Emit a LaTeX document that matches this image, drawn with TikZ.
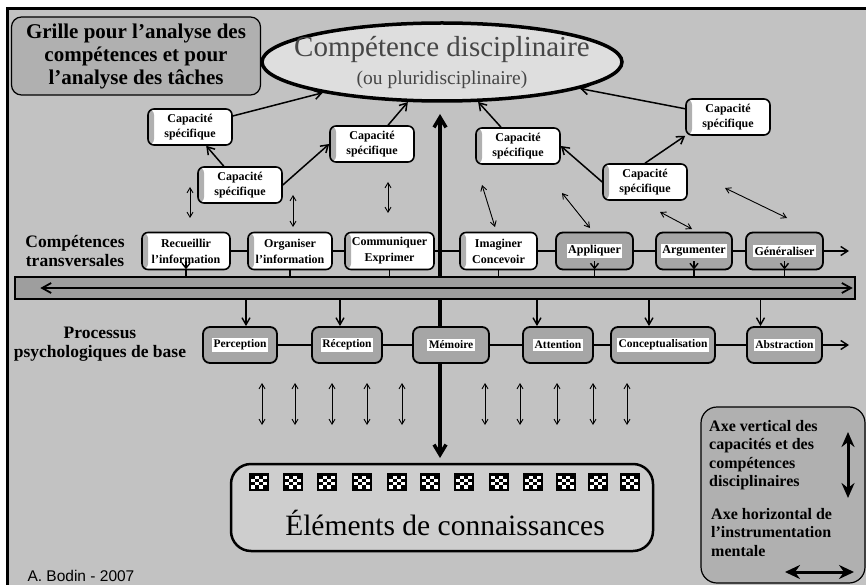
\documentclass[tikz,border=0pt]{standalone}
\usepackage{fontspec}
\setmainfont{Liberation Serif}
\newfontfamily\credfont{Liberation Sans}
\usetikzlibrary{arrows.meta,positioning,shapes.geometric}
\definecolor{bgGray}{RGB}{194,194,194}
\definecolor{boxGray}{RGB}{176,176,176}
\definecolor{procGray}{RGB}{166,166,166}
\definecolor{barGray}{RGB}{158,158,158}
\definecolor{ellFill}{RGB}{222,222,222}
\definecolor{ellText}{RGB}{70,70,70}
\definecolor{baseFill}{RGB}{206,206,206}
\newcommand\wlab[1]{{\setlength\fboxsep{1.5pt}\colorbox{white}{#1}}}

\begin{document}
\begin{tikzpicture}[x=1pt,y=-1pt,
    capbox/.style={rectangle, rounded corners=6pt, draw, line width=1.6pt, fill=white,
               minimum width=84pt, minimum height=36pt, align=center, inner sep=2pt,
               font=\bfseries\fontsize{12}{15}\selectfont,
               path picture={\fill[boxGray] (path picture bounding box.south west)
                 rectangle ([xshift=6pt]path picture bounding box.north west);}},
    transbox/.style={capbox, minimum height=37pt, font=\bfseries\fontsize{12}{16}\selectfont},
    transgray/.style={rectangle, rounded corners=7pt, draw, line width=1.8pt, fill=procGray,
               minimum height=37pt, inner sep=2pt, font=\bfseries\fontsize{12}{14}\selectfont},
    procbox/.style={transgray, minimum height=36pt, font=\bfseries\fontsize{11.5}{13}\selectfont},
    sidelab/.style={align=center, font=\bfseries\fontsize{17.5}{18.5}\selectfont},
    caparr/.style={-{Straight Barb[length=7pt,width=9pt]}, line width=1.5pt},
    dbl/.style={{Straight Barb[length=5pt,width=6pt]}-{Straight Barb[length=5pt,width=6pt]}, line width=0.9pt},
    legtxt/.style={anchor=north west, align=left, inner sep=0pt, font=\bfseries\fontsize{16}{18.5}\selectfont}
  ]
  \useasboundingbox (0,0) rectangle (866,585);
  % frame
  \fill[bgGray] (7,9) rectangle (866,585);
  \draw[line width=3pt] (7,585) -- (7,9) -- (866,9);

  % title and main competence
  \node[rectangle, rounded corners=10pt, draw, line width=1.2pt, fill=boxGray, minimum width=249pt,
        minimum height=78pt, align=center, font=\bfseries\fontsize{21}{23}\selectfont] (title) at (136,56)
        {Grille pour l'analyse des\\compétences et pour\\l'analyse des tâches};
  \node[ellipse, draw, line width=3.5pt, fill=ellFill, minimum width=360pt, minimum height=78pt] (comp) at (442,62) {};
  \node[text=ellText, font=\fontsize{29}{31}\selectfont] (compT) at (442,50) {Compétence disciplinaire};
  \node[text=ellText, font=\fontsize{19.5}{21}\selectfont] (compS) at (442,80) {(ou pluridisciplinaire)};

  % vertical axis
  \coordinate (axTop) at (440,114);
  \coordinate (axBot) at (440,458);
  \draw[{Straight Barb[length=10pt,width=12pt]}-{Straight Barb[length=10pt,width=12pt]}, line width=3.5pt] (axTop) -- (axBot);

  % specific capacities
  \node[capbox] (cap1) at (190,127) {Capacité\\spécifique};
  \node[capbox] (cap2) at (240,185) {Capacité\\spécifique};
  \node[capbox] (cap3) at (372,144) {Capacité\\spécifique};
  \node[capbox] (cap4) at (518,146) {Capacité\\spécifique};
  \node[capbox] (cap5) at (645,182) {Capacité\\spécifique};
  \node[capbox] (cap6) at (728,117) {Capacité\\spécifique};
  \draw[caparr] (cap1) -- (comp);
  \draw[caparr] (cap2) -- (cap1);
  \draw[caparr] (cap2.east) -- (cap3.west);
  \draw[caparr] (cap3) -- (comp);
  \draw[caparr] (cap4) -- (comp);
  \draw[caparr] (cap5.west) -- (cap4.east);
  \draw[caparr] (cap5.north) -- (cap6.south west);
  \draw[caparr] (cap6) -- (comp);
  \foreach \x/\y/\u/\v in {190/187/190/218, 293/195/293/227, 388/182/388/213, 482/185/495/227,
                           562/193/590/228, 660/212/692/229, 725/188/787/218}
    \draw[dbl] (\x,\y) -- (\u,\v);

  % transversal competences
  \node[sidelab] (ctLab) at (75,251) {Compétences\\transversales};
  \node[transbox, minimum width=88pt] (rec)  at (186,251)   {Recueillir\\l'information};
  \node[transbox, minimum width=84pt] (org)  at (290,251)   {Organiser\\l'information};
  \node[transbox, minimum width=89pt] (comm) at (389.5,251) {Communiquer\\Exprimer};
  \node[transbox, minimum width=77pt] (imag) at (498.5,251) {Imaginer\\Concevoir};
  \node[transgray, minimum width=77pt] (app) at (594.5,251) {\wlab{Appliquer}};
  \node[transgray, minimum width=76pt] (arg) at (694,251)   {\wlab{Argumenter}};
  \node[transgray, minimum width=77pt] (gen) at (784.5,251) {\wlab{Généraliser}};
  \coordinate (transEnd) at (849,251);
  \foreach \a/\b in {rec/org, org/comm, comm/imag, imag/app, app/arg, arg/gen}
    \draw[line width=1.4pt] (\a) -- (\b);
  \draw[-{Straight Barb[length=7pt,width=9pt]}, line width=1.4pt] (gen) -- (transEnd);

  % instrumentation bar
  \node[rectangle, draw, line width=1.4pt, fill=barGray, minimum width=840pt, minimum height=22pt] (bar) at (435,288) {};
  \draw[{Straight Barb[length=9pt,width=10pt]}-{Straight Barb[length=9pt,width=10pt]}, line width=1.8pt]
    ([xshift=26pt]bar.west) -- ([xshift=-3pt]bar.east);
  \foreach \n in {rec, org, comm, imag, app, arg, gen}
    \draw[line width=1.4pt] (\n.south) -- (\n.south |- bar.north);
  \foreach \n in {rec, app, arg, gen}
    \draw[-{Straight Barb[length=5pt,width=8pt]}, line width=1.4pt] ([yshift=9pt]\n.south) -- ([yshift=1pt]\n.south);

  % basic psychological processes
  \node[sidelab] (ppLab) at (100,344) {Processus\\psychologiques de base};
  \node[procbox, minimum width=74pt]  (perc) at (240,345)   {\wlab{Perception}};
  \node[procbox, minimum width=70pt]  (recp) at (347,345)   {\wlab{Réception}};
  \node[procbox, minimum width=76pt]  (mem)  at (451,345)   {\wlab{Mémoire}};
  \node[procbox, minimum width=70pt]  (att)  at (558,345)   {\wlab{Attention}};
  \node[procbox, minimum width=104pt] (conc) at (663,345)   {\wlab{Conceptualisation}};
  \node[procbox, minimum width=75pt]  (abst) at (784.5,345) {\wlab{Abstraction}};
  \coordinate (procEnd) at (849,345);
  \foreach \a/\b in {perc/recp, recp/mem, mem/att, att/conc, conc/abst}
    \draw[line width=1.4pt] (\a) -- (\b);
  \draw[-{Straight Barb[length=7pt,width=9pt]}, line width=1.4pt] (abst) -- (procEnd);
  \foreach \n/\d in {perc/6, recp/-7, att/-21, conc/-14, abst/-24}
    \draw[-{Straight Barb[length=7pt,width=8pt]}, line width=1.4pt]
      ([xshift=\d pt]\n.north |- bar.south) -- ([xshift=\d pt]\n.north);
  \foreach \x in {262, 295, 332, 367, 402, 485, 520, 557, 593, 627}
    \draw[dbl] (\x,383) -- (\x,425);

  % knowledge elements
  \node[rectangle, rounded corners=20pt, draw, line width=2.5pt, fill=baseFill,
        minimum width=422pt, minimum height=87pt] (base) at (442,507.5) {};
  \node[font=\fontsize{29.5}{31}\selectfont] (baseT) at (445,523) {Éléments de connaissances};
  \foreach \k [count=\c] in {259,293,327,362,397,430,464,499,533,566,598,630} {
    \fill (\k-10,473) rectangle (\k+10,491);
    \foreach \i in {0,...,3}
      \foreach \j in {0,...,3} {
        \pgfmathtruncatemacro\w{mod(\i+\j+\c,2)}
        \ifnum\w=0 \fill[white] (\k-8+4*\i,475.5+3.25*\j) rectangle ++(4,3.25); \fi
      }
  }

  % legend
  \node[rectangle, rounded corners=16pt, draw, line width=1.2pt, fill=boxGray,
        minimum width=164pt, minimum height=176pt] (leg) at (783,495) {};
  \node[legtxt] (legV) at (709,420) {Axe vertical des\\capacités et des\\compétences\\disciplinaires};
  \node[legtxt] (legH) at (711,508) {Axe horizontal de\\l'instrumentation\\mentale};
  \coordinate (lvTop) at (848,432);
  \coordinate (lvBot) at (848,498);
  \coordinate (lhL) at (785,572);
  \coordinate (lhR) at (854,572);
  \draw[{Stealth[length=15pt,width=13pt,inset=5pt]}-{Stealth[length=15pt,width=13pt,inset=5pt]}, line width=3pt] (lvTop) -- (lvBot);
  \draw[{Stealth[length=15pt,width=14pt,inset=5pt]}-{Stealth[length=15pt,width=14pt,inset=5pt]}, line width=3pt] (lhL) -- (lhR);

  \node[anchor=west, font=\credfont\fontsize{15.5}{17}\selectfont] (cred) at (24,576) {A. Bodin - 2007};
\end{tikzpicture}
\end{document}
